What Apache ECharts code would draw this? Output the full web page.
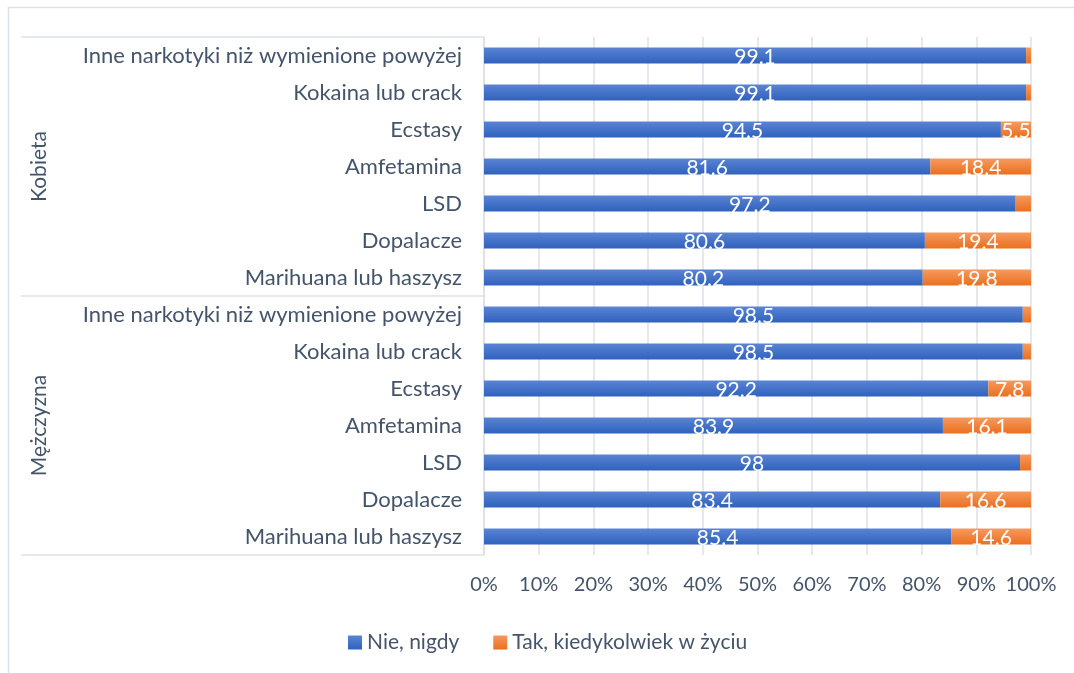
<!DOCTYPE html>
<html>
<head>
<meta charset="utf-8">
<script src="https://cdn.jsdelivr.net/npm/echarts@6/dist/echarts.min.js"></script>
<style>
html,body{margin:0;padding:0;background:#fff;}
#chart{width:1074px;height:673px;}
</style>
</head>
<body>
<div id="chart"></div>
<script>
// ---- data (top to bottom within each group) ----
const groups = ['Kobieta', 'Mężczyzna'];
const items = ['Inne narkotyki niż wymienione powyżej', 'Kokaina lub crack', 'Ecstasy', 'Amfetamina', 'LSD', 'Dopalacze', 'Marihuana lub haszysz'];
const kobietaNie = [99.1, 99.1, 94.5, 81.6, 97.2, 80.6, 80.2];
const kobietaTak = [0.9, 0.9, 5.5, 18.4, 2.8, 19.4, 19.8];
const mezczyznaNie = [98.5, 98.5, 92.2, 83.9, 98, 83.4, 85.4];
const mezczyznaTak = [1.5, 1.5, 7.8, 16.1, 2, 16.6, 14.6];
const seriesNames = ['Nie, nigdy', 'Tak, kiedykolwiek w życiu'];
const xTicks = [0, 10, 20, 30, 40, 50, 60, 70, 80, 90, 100];

const categories = items.concat(items);
const nieValues = kobietaNie.concat(mezczyznaNie);
const takValues = kobietaTak.concat(mezczyznaTak);

const FONT = 'Lato';
const TXT = '#44546A';
const LINE = '#DDE1E6';

const blueGrad = new echarts.graphic.LinearGradient(0, 0, 0, 1, [
  {offset: 0, color: '#5B84D3'}, {offset: 1, color: '#2F62BE'}]);
const orangeGrad = new echarts.graphic.LinearGradient(0, 0, 0, 1, [
  {offset: 0, color: '#F59A5E'}, {offset: 1, color: '#EB6F1E'}]);

const chart = echarts.init(document.getElementById('chart'));
chart.setOption({
  animation: false,
  textStyle: {fontFamily: FONT},
  grid: {left: 484, right: 43, top: 37, bottom: 118, containLabel: false},
  legend: {
    data: seriesNames,
    left: 343, top: 627,
    icon: 'rect', itemWidth: 14, itemHeight: 14, itemGap: 34,
    textStyle: {fontFamily: FONT, fontSize: 21, color: TXT}
  },
  xAxis: {
    type: 'value', min: xTicks[0], max: xTicks[xTicks.length - 1], interval: 10,
    axisLine: {show: false}, axisTick: {show: false},
    splitLine: {show: true, lineStyle: {color: LINE, width: 1.5}},
    axisLabel: {formatter: '{value}%', fontFamily: FONT, fontSize: 20, color: TXT, margin: 20}
  },
  yAxis: [{
    type: 'category', data: categories, inverse: true,
    axisLine: {show: true, lineStyle: {color: LINE, width: 1.5}},
    axisTick: {show: false},
    axisLabel: {fontFamily: FONT, fontSize: 22, color: TXT, margin: 22}
  }, {
    type: 'category', data: groups, inverse: true, position: 'left', offset: 463,
    axisLine: {show: false},
    axisTick: {show: true, inside: true, length: 463, lineStyle: {color: LINE, width: 1.5}},
    axisLabel: {inside: true, rotate: 90, margin: 8, fontFamily: FONT, fontSize: 21, color: TXT}
  }],
  graphic: [{
    type: 'rect', silent: true, z: -1,
    shape: {x: 8.5, y: 7.5, width: 1100, height: 700},
    style: {fill: 'none', stroke: LINE, lineWidth: 1.5}
  }],
  series: [{
    name: seriesNames[0], type: 'bar', stack: 'a', barWidth: 16, yAxisIndex: 0,
    data: nieValues,
    itemStyle: {color: blueGrad},
    label: {show: true, position: 'inside', color: '#fff', fontFamily: FONT, fontSize: 21, offset: [0, 2]}
  }, {
    name: seriesNames[1], type: 'bar', stack: 'a', barWidth: 16, yAxisIndex: 0,
    data: takValues,
    itemStyle: {color: orangeGrad},
    label: {show: true, position: 'inside', color: '#fff', fontFamily: FONT, fontSize: 21, offset: [0, 2],
      formatter: p => (p.value >= 5 ? String(p.value) : '')}
  }]
});
</script>
</body>
</html>
